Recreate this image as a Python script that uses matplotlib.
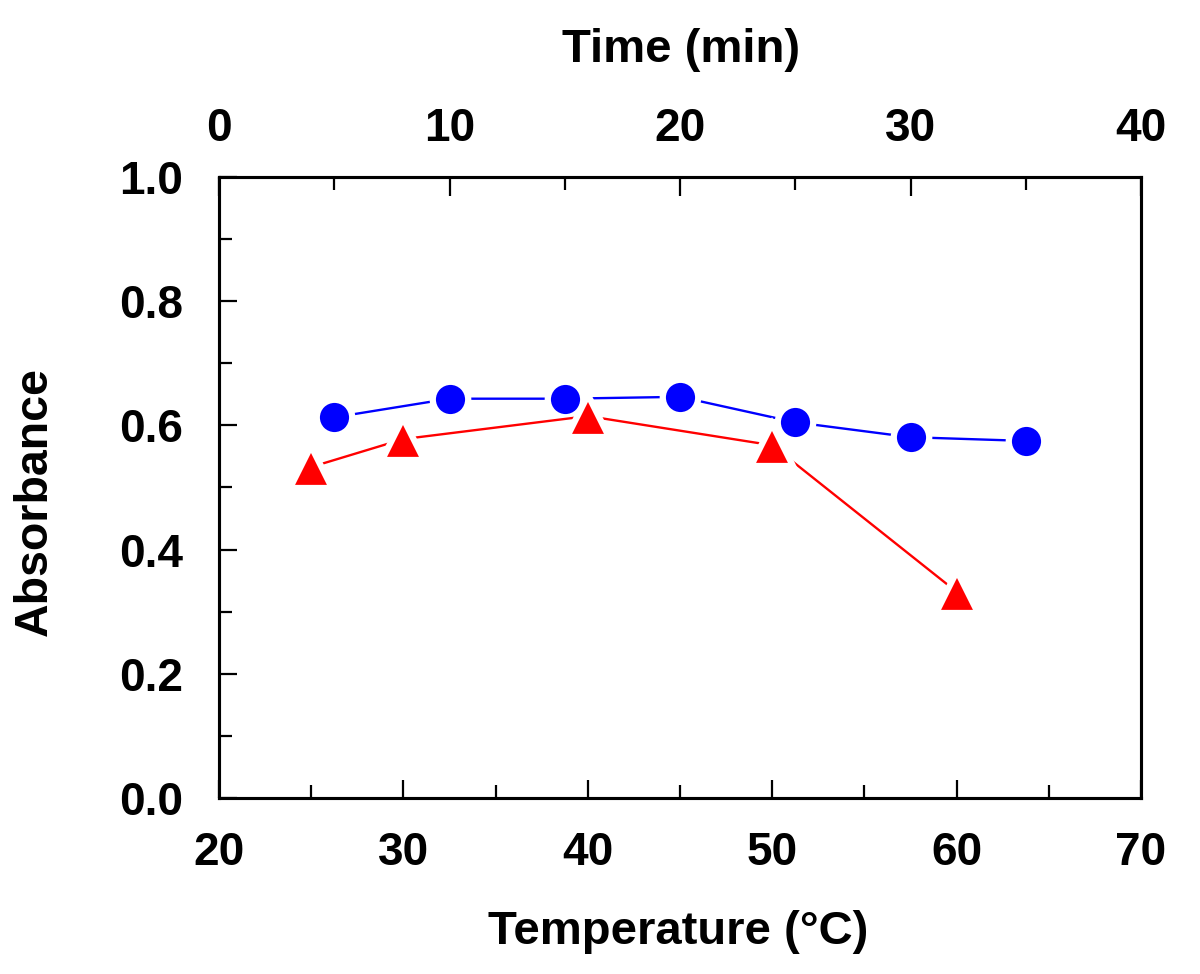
import matplotlib
matplotlib.use("Agg")
import matplotlib.pyplot as plt
from matplotlib.ticker import MultipleLocator

plt.rcParams['font.family'] = ['Liberation Sans', 'DejaVu Sans']
plt.rcParams['font.weight'] = 'bold'

# Data
time_min = [5, 10, 15, 20, 25, 30, 35]
abs_time = [0.613, 0.643, 0.643, 0.646, 0.605, 0.581, 0.575]
temp_c = [25, 30, 40, 50, 60]
abs_temp = [0.533, 0.578, 0.615, 0.568, 0.332]

W, H = 1200, 974
fig = plt.figure(figsize=(W / 100, H / 100), dpi=100)
ax = fig.add_axes([219 / W, 1 - 798 / H, (1141 - 219) / W, (798 - 177) / H])
ax2 = ax.twiny()

ax.set_xlim(20, 70)
ax.set_ylim(0, 1.0)
ax2.set_xlim(0, 40)

blue = '#0000FF'
red = '#FF0000'

# lines
ax.plot(temp_c, abs_temp, color=red, lw=1.7, zorder=2)
ax2.plot(time_min, abs_time, color=blue, lw=1.7, zorder=2)
# markers with white halo
ax2.plot(time_min, abs_time, ls='none', marker='o', ms=25.5, mfc=blue,
         mec='white', mew=4.5, zorder=3)
ax.plot(temp_c, abs_temp, ls='none', marker='^', ms=30, mfc=red,
        mec='white', mew=4.5, zorder=4)
ax.set_zorder(ax2.get_zorder() + 1)
ax.patch.set_visible(False)

for a in (ax, ax2):
    for s in a.spines.values():
        s.set_linewidth(2.2)

ax.xaxis.set_major_locator(MultipleLocator(10))
ax.xaxis.set_minor_locator(MultipleLocator(5))
ax.yaxis.set_major_locator(MultipleLocator(0.2))
ax.yaxis.set_minor_locator(MultipleLocator(0.1))
ax2.xaxis.set_major_locator(MultipleLocator(10))
ax2.xaxis.set_minor_locator(MultipleLocator(5))

ax.tick_params(axis='x', which='both', direction='in', top=False, bottom=True)
ax.tick_params(axis='y', which='both', direction='in', right=False, left=True)
ax.tick_params(which='major', length=13, width=1.6)
ax.tick_params(which='minor', length=9.5, width=1.6)
ax.tick_params(axis='x', which='major', pad=24, labelsize=33)
ax.tick_params(axis='y', which='major', pad=26, labelsize=33)
ax2.tick_params(axis='x', which='both', direction='in', top=True, bottom=False)
ax2.tick_params(axis='x', which='major', length=14, width=1.6, pad=19, labelsize=33)
ax2.tick_params(axis='x', which='minor', length=9.5, width=1.6)

ax.yaxis.set_major_formatter(matplotlib.ticker.FormatStrFormatter('%.1f'))

for lab in ax.get_xticklabels() + ax.get_yticklabels() + ax2.get_xticklabels():
    lab.set_fontweight('bold')

fig.text(678 / W, 1 - 932 / H, 'Temperature (°C)', ha='center', va='center',
         fontsize=34, fontweight='bold')
fig.text(681 / W, 1 - 50 / H, 'Time (min)', ha='center', va='center',
         fontsize=34, fontweight='bold')
fig.text(35 / W, 1 - 501 / H, 'Absorbance', ha='center', va='center',
         fontsize=33.5, fontweight='bold', rotation=90)

fig.savefig('out.png', dpi=100, facecolor='white')
